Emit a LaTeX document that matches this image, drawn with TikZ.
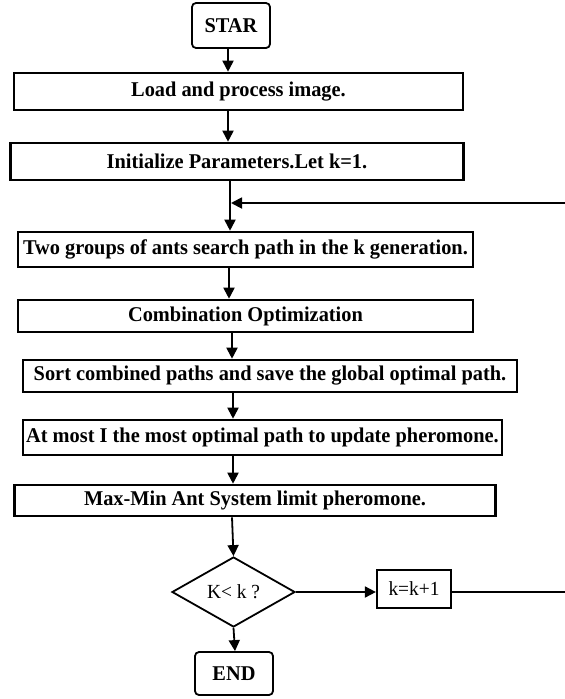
\documentclass[tikz,border=0pt]{standalone}
\usepackage{fontspec}
\setmainfont{Liberation Serif}
\newfontfamily\boxfont{Liberation Serif}[FakeStretch=0.97]
\usetikzlibrary{shapes.geometric,arrows.meta}
\begin{document}
\begin{tikzpicture}[x=1pt,y=-1pt,
  box/.style={draw, line width=2.6pt, rectangle, inner sep=0pt, font=\boxfont\bfseries\fontsize{21}{23}\selectfont},
  term/.style={box, rounded corners=4pt, line width=1.8pt},
  dec/.style={draw, diamond, line width=1.8pt, inner sep=0pt, aspect=1.757, font=\boxfont\fontsize{20}{22}\selectfont},
  inc/.style={draw, line width=2.2pt, rectangle, inner sep=0pt, font=\boxfont\fontsize{20}{22}\selectfont},
  conn/.style={line width=1.8pt, -{Triangle[width=11pt,length=11pt]}},
  plain/.style={line width=1.8pt}]
\useasboundingbox (0,0) rectangle (565,699);
\fill[white] (0,0) rectangle (565,699);
\node[term, minimum width=78pt, minimum height=45pt] (star) at (231,25.5) {STAR};
\node[box, minimum width=449pt, minimum height=37pt] (load) at (238.5,91.5) {Load and process image.};
\node[box, minimum width=453pt, minimum height=37pt] (init) at (237,161.5) {Initialize Parameters.Let k=1.};
\node[box, minimum width=455pt, minimum height=35pt] (two) at (245.5,249.5) {Two groups of ants search path in the k generation.};
\node[box, minimum width=455pt, minimum height=32pt] (comb) at (245.5,316) {Combination Optimization};
\node[box, minimum width=494pt, minimum height=32pt] (sort) at (270,376) {Sort combined paths and save the global optimal path.};
\node[box, minimum width=479pt, minimum height=35pt] (most) at (262.5,437.5) {At most I the most optimal path to update pheromone.};
\node[box, minimum width=481pt, minimum height=31pt] (mmas) at (255,500.5) {Max-Min Ant System limit pheromone.};
\node[dec, minimum width=123pt, minimum height=70pt] (cond) at (233.5,592) {K< k ?};
\node[inc, minimum width=74pt, minimum height=38pt] (kk) at (414,589) {k=k+1};
\node[term, minimum width=78pt, minimum height=43pt] (end) at (234,673.5) {END};
\coordinate (join) at (230,203);
\coordinate (loopR) at (580,592);
\coordinate (loopT) at (580,203);
\draw[conn] (228,0 |- star.south) -- (228,0 |- load.north);
\draw[conn] (228,0 |- load.south) -- (228,0 |- init.north);
\draw[plain] (230,0 |- init.south) -- (join);
\draw[conn] (join) -- (230,0 |- two.north);
\draw[conn] (229,0 |- two.south) -- (229,0 |- comb.north);
\draw[conn] (232,0 |- comb.south) -- (232,0 |- sort.north);
\draw[conn] (233,0 |- sort.south) -- (233,0 |- most.north);
\draw[conn] (233,0 |- most.south) -- (233,0 |- mmas.north);
\draw[conn] (232,0 |- mmas.south) -- (cond.north);
\draw[conn] (cond.south) -- (235,0 |- end.north);
\draw[conn] (cond.east) -- (kk.west |- cond.east);
\draw[plain] (kk.east |- cond.east) -- (loopR) -- (loopT);
\draw[conn, shorten >=1pt] (loopT) -- (join);
\end{tikzpicture}
\end{document}
